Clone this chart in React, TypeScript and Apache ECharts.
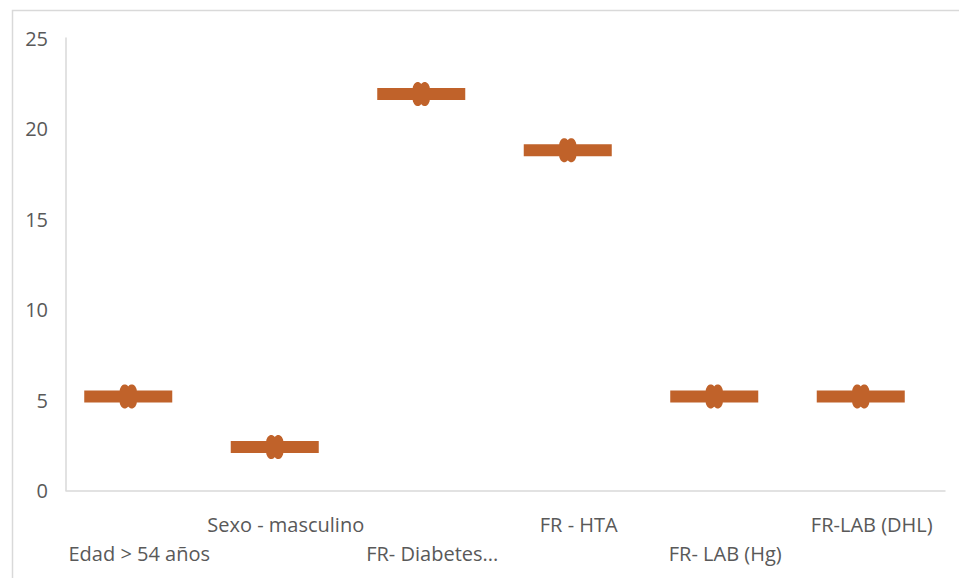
import React, { useEffect, useRef } from "react";
import * as echarts from "echarts";

// Factores de riesgo y valor de cada uno
const categories = [
  "Edad > 54 años",
  "Sexo - masculino",
  "FR- Diabetes...",
  "FR - HTA",
  "FR- LAB (Hg)",
  "FR-LAB (DHL)",
];
const values = [5.2, 2.4, 21.9, 18.8, 5.2, 5.2];
const yTicks = { min: 0, max: 25, interval: 5 };

const MARK_COLOR = "#c0622a";
const TEXT_COLOR = "#595959";
const LINE_COLOR = "#d9d9d9";

// Marker: a horizontal dash with a rounded double knot in the middle
function knot(cx: number): string {
  const half: [number, number][] = [
    [0, 0.8], [0.6, 2.2], [2, 3.6], [4.5, 4.8], [8, 5.4], [12, 5.6],
  ];
  const right = half.map(([y, w]) => [cx + w, y]);
  const lower = half.slice(0, -1).reverse().map(([y, w]) => [cx + w, 24 - y]);
  const lowerLeft = half.map(([y, w]) => [cx - w, 24 - y]);
  const upperLeft = half.slice(0, -1).reverse().map(([y, w]) => [cx - w, y]);
  const pts = [...right, ...lower, ...lowerLeft, ...upperLeft];
  return "M" + pts.map((p) => p.join(" ")).join(" L") + " Z";
}
const markerPath = "path://M0 6 L88 6 L88 18 L0 18 Z " + knot(40.5) + " " + knot(47.5);

export default function App() {
  const ref = useRef<HTMLDivElement>(null);

  useEffect(() => {
    document.body.style.margin = "0";
    if (!ref.current) return;
    const chart = echarts.init(ref.current, null, { renderer: "svg" });
    chart.setOption({
      animation: false,
      backgroundColor: "#ffffff",
      textStyle: { fontFamily: "Open Sans" },
      graphic: [
        {
          type: "rect",
          left: 10,
          top: 8,
          shape: { width: 960, height: 600 },
          style: { fill: "none", stroke: LINE_COLOR, lineWidth: 1.5 },
          silent: true,
        },
      ],
      grid: { left: 66, right: 14, top: 38, bottom: 87.5, containLabel: false },
      xAxis: {
        type: "category",
        data: categories,
        boundaryGap: true,
        axisLine: { show: true, lineStyle: { color: LINE_COLOR, width: 1.5 } },
        axisTick: { show: false },
        splitLine: { show: false },
        axisLabel: {
          interval: 0,
          margin: 19,
          color: TEXT_COLOR,
          fontSize: 20,
          fontFamily: "Open Sans",
          lineHeight: 29,
          formatter: (v: string, i: number) => (i % 2 === 0 ? "\n" + v : v),
        },
      },
      yAxis: {
        type: "value",
        min: yTicks.min,
        max: yTicks.max,
        interval: yTicks.interval,
        axisLine: { show: true, lineStyle: { color: LINE_COLOR, width: 1.5 } },
        axisTick: { show: false },
        splitLine: { show: false },
        axisLabel: {
          margin: 18,
          color: TEXT_COLOR,
          fontSize: 20,
          fontFamily: "Open Sans",
        },
      },
      series: [
        {
          type: "scatter",
          data: values,
          symbol: markerPath,
          symbolSize: [88, 24],
          symbolKeepAspect: false,
          symbolOffset: [-11, 0],
          itemStyle: { color: MARK_COLOR, opacity: 1 },
          silent: true,
        },
      ],
    });
    return () => chart.dispose();
  }, []);

  return <div ref={ref} style={{ width: 959, height: 578 }} />;
}
